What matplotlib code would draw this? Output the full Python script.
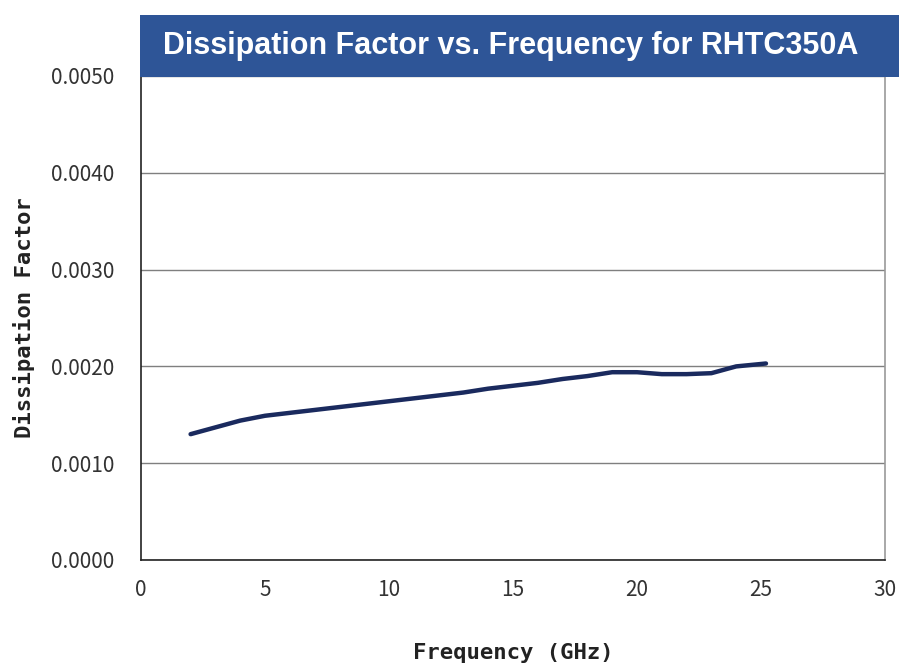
import matplotlib
matplotlib.use("Agg")
import matplotlib.pyplot as plt
from matplotlib.patches import Rectangle

freq_ghz = [2.0, 3, 4, 5, 6, 7, 8, 9, 10, 11, 12, 13, 14, 15, 16, 17, 18, 19, 20, 21, 22, 23, 24, 25.2]
dissipation = [0.00130, 0.00137, 0.00144, 0.00149, 0.00152, 0.00155, 0.00158, 0.00161, 0.00164,
               0.00167, 0.00170, 0.00173, 0.00177, 0.00180, 0.00183, 0.00187, 0.00190, 0.00194,
               0.00194, 0.00192, 0.00192, 0.00193, 0.00200, 0.00203]
x_ticks = [0, 5, 10, 15, 20, 25, 30]
y_ticks = [0.0, 0.001, 0.002, 0.003, 0.004, 0.005]
y_tick_labels = ["0.0000", "0.0010", "0.0020", "0.0030", "0.0040", "0.0050"]
title = "Dissipation Factor vs. Frequency for RHTC350A"

fig = plt.figure(figsize=(8.99, 6.65), dpi=100)
ax = fig.add_axes([141/899, 1-560/665, (885-141)/899, (560-76)/665])

ax.plot(freq_ghz, dissipation, color="#1a2a5e", lw=3.2, solid_capstyle="round")
ax.set_xlim(0, 30)
ax.set_ylim(0, 0.005)
ax.set_xticks(x_ticks)
ax.set_yticks(y_ticks)
ax.set_yticklabels(y_tick_labels)
ax.grid(axis="y", color="#7f7f7f", lw=1)
ax.set_axisbelow(True)
for lab in ax.get_xticklabels() + ax.get_yticklabels():
    lab.set_fontfamily(["Noto Sans CJK JP", "DejaVu Sans"])
    lab.set_fontsize(15)
    lab.set_color("#333333")
ax.tick_params(axis="y", length=0, pad=19)
ax.tick_params(axis="x", length=0, pad=14)
for s in ax.spines.values():
    s.set_color("#222222")
    s.set_linewidth(1.2)
ax.spines["right"].set_color("#999999")

ax.set_xlabel("Frequency (GHz)", family="DejaVu Sans Mono", fontsize=16, labelpad=30,
              color="#222222", weight="bold")
ax.set_ylabel("Dissipation Factor", family="DejaVu Sans Mono", fontsize=16, labelpad=12,
              color="#222222", weight="bold")

fig.patches.append(Rectangle((140/899, 1-77/665), 1-140/899, 62/665, transform=fig.transFigure,
                             facecolor="#2E5597", edgecolor="none", zorder=5))
fig.text(511/899, 1-46/665, title, ha="center", va="center", color="white",
         family="Liberation Sans", weight="bold", fontsize=22, zorder=6)

fig.savefig("out.png", dpi=100)
